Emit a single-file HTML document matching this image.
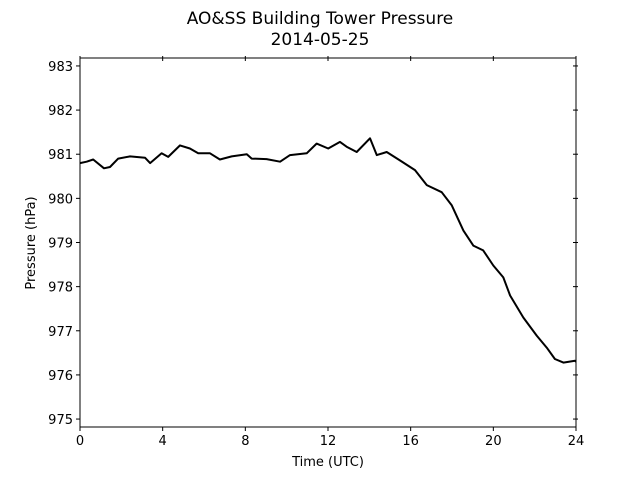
<!DOCTYPE html>
<html><head><meta charset="utf-8"><style>body{margin:0;background:#fff}svg{display:block}text{font-family:"DejaVu Sans","Liberation Sans",sans-serif}</style></head>
<body>
<svg id="chart" width="640" height="480" xmlns="http://www.w3.org/2000/svg">
<rect width="640" height="480" fill="#fff"/>
<text x="320" y="24" font-size="17" text-anchor="middle">AO&amp;SS Building Tower Pressure</text>
<text x="320" y="45" font-size="17" text-anchor="middle">2014-05-25</text>
<g id="axes"></g>
<text x="328" y="466" font-size="13" text-anchor="middle">Time (UTC)</text>
<text x="35" y="243" font-size="13" text-anchor="middle" transform="rotate(-90 35 243)">Pressure (hPa)</text>
</svg>
<script>
const times=[0,0.32,0.64,1.16,1.45,1.85,2.42,3.15,3.39,3.95,4.27,4.84,5.32,5.72,6.29,6.77,7.34,8.07,8.31,9.03,9.68,10.16,10.97,11.45,12.01,12.58,12.9,13.39,14.03,14.36,14.84,15.48,16.21,16.78,17.5,17.99,18.55,19.03,19.51,20.0,20.48,20.81,21.45,22.1,22.58,22.98,23.39,23.95,24];
const pressures=[980.80,980.83,980.88,980.68,980.71,980.90,980.95,980.92,980.80,981.02,980.94,981.20,981.13,981.02,981.02,980.88,980.95,981.00,980.90,980.89,980.83,980.98,981.02,981.24,981.13,981.28,981.17,981.05,981.36,980.98,981.05,980.86,980.64,980.30,980.14,979.84,979.27,978.93,978.82,978.48,978.21,977.80,977.30,976.89,976.62,976.36,976.28,976.32,976.30];
const xTicks=[0,4,8,12,16,20,24];
const yTicks=[975,976,977,978,979,980,981,982,983];
const L=80,R=576,T=58,B=427,xMin=0,xMax=24,yMin=974.82,yMax=983.18;
const xs=v=>L+(v-xMin)/(xMax-xMin)*(R-L);
const ys=v=>B-(v-yMin)/(yMax-yMin)*(B-T);
const NS="http://www.w3.org/2000/svg";
const g=document.getElementById('axes');
function mk(tag,attrs){const e=document.createElementNS(NS,tag);for(const k in attrs)e.setAttribute(k,attrs[k]);g.appendChild(e);return e;}
let d=times.map((t,i)=>(i?'L':'M')+xs(t).toFixed(1)+','+ys(pressures[i]).toFixed(1)).join('');
const line=mk('path',{d:d,fill:'none',stroke:'#000','stroke-width':2,'stroke-linejoin':'round'});


const frame=mk('rect',{x:L,y:T,width:R-L,height:B-T,fill:'none',stroke:'#000','stroke-width':1});


xTicks.forEach(v=>{const x=xs(v);
 const t=mk('line',{x1:x,x2:x,y1:B,y2:B+4,stroke:'#000'});
 
 
 const t2=mk('line',{x1:x,x2:x,y1:T-2,y2:T+3,stroke:'#000'});
 
 
 const lb=mk('text',{x:x,y:B+18,'font-size':13,'text-anchor':'middle'});lb.textContent=v;
 
 
});
yTicks.forEach(v=>{const y=ys(v);
 const t=mk('line',{x1:L-4,x2:L,y1:y,y2:y,stroke:'#000'});
 
 
 const t2=mk('line',{x1:R-3,x2:R+2,y1:y,y2:y,stroke:'#000'});
 
 
 const lb=mk('text',{x:L-7,y:y+5,'font-size':13,'text-anchor':'end'});lb.textContent=v;
 
 
});
</script>
</body></html>
